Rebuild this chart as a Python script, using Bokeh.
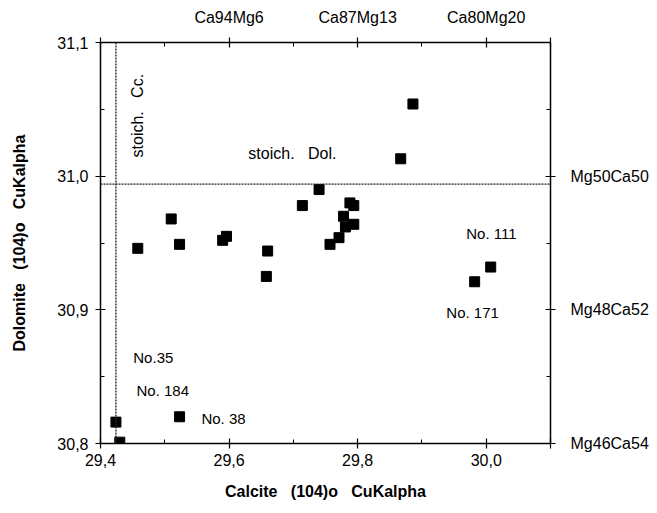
import numpy as np
from bokeh.plotting import figure
from bokeh.models import (LinearAxis, FixedTicker, CustomJSTickFormatter, Span,
                          Range1d, ColumnDataSource, Label)
from bokeh.embed import file_html
from bokeh.resources import INLINE

# ---- data ----
calcite = [29.424, 29.430, 29.458, 29.510, 29.523, 29.590, 29.596, 29.660, 29.658,
           29.714, 29.740, 29.757, 29.771, 29.778, 29.781, 29.788, 29.794, 29.794,
           29.867, 29.886, 29.982, 30.007, 29.523]
dolomite = [30.816, 30.801, 30.946, 30.968, 30.949, 30.952, 30.955, 30.944, 30.925,
            30.978, 30.990, 30.949, 30.954, 30.970, 30.962, 30.980, 30.978, 30.964,
            31.013, 31.054, 30.921, 30.932, 30.820]

x_major = [29.4, 29.6, 29.8, 30.0, 30.1]
x_minor = [29.5, 29.7, 29.9]
y_major = [30.8, 30.9, 31.0, 31.1]
y_minor = [30.85, 30.95, 31.05]
top_ticks = [29.6, 29.8, 30.0]
top_labels = ["Ca94Mg6", "Ca87Mg13", "Ca80Mg20"]
right_ticks = [31.0, 30.9, 30.8]
right_labels = ["Mg50Ca50", "Mg48Ca52", "Mg46Ca54"]
stoich_dol = 30.994
stoich_cc = 29.424

NB = "\u00a0"
ann_text = ["No.35", "No. 184", "No. 38", "No. 111", "No. 171"]
ann_x = [29.451, 29.456, 29.557, 29.969, 29.938]
ann_y = [30.864, 30.840, 30.819, 30.957, 30.898]

FONT = "Liberation Sans"

p = figure(width=657, height=513, x_range=Range1d(29.4, 30.1), y_range=Range1d(30.8, 31.1),
           output_backend="svg", toolbar_location=None,
           min_border_left=100, min_border_right=107, min_border_top=42, min_border_bottom=70,
           background_fill_color="white", border_fill_color="white")
p.outline_line_color = None
p.xgrid.visible = False
p.ygrid.visible = False

num_fmt = CustomJSTickFormatter(code="""
if (Math.abs(tick - 30.1) < 1e-6) return '';
return tick.toFixed(1).replace('.', ',');
""")

def style(ax, size="16px"):
    ax.axis_line_color = "black"
    ax.axis_line_width = 1.5
    ax.major_tick_line_color = "black"
    ax.minor_tick_line_color = "black"
    ax.major_tick_line_width = 1.2
    ax.minor_tick_line_width = 1.0
    ax.major_tick_in = 5
    ax.major_tick_out = 5
    ax.minor_tick_in = 4
    ax.minor_tick_out = 0
    ax.major_label_text_font = FONT
    ax.major_label_text_font_size = size
    ax.major_label_text_color = "black"
    ax.axis_label_text_font = FONT
    ax.axis_label_text_font_style = "bold"
    ax.axis_label_text_font_size = "16px"
    ax.axis_label_text_color = "black"

xb = p.xaxis[0]
xb.ticker = FixedTicker(ticks=x_major, minor_ticks=x_minor)
xb.formatter = num_fmt
xb.axis_label = "Calcite" + NB * 2 + " (104)o" + NB * 2 + " CuKalpha"
style(xb)
xb.major_label_standoff = 5
xb.axis_label_standoff = 14

yl = p.yaxis[0]
yl.ticker = FixedTicker(ticks=y_major, minor_ticks=y_minor)
yl.formatter = CustomJSTickFormatter(code="return tick.toFixed(1).replace('.', ',');")
yl.axis_label = "Dolomite" + NB * 2 + " (104)o" + NB * 2 + " CuKalpha"
style(yl)
yl.major_label_standoff = 7
yl.axis_label_standoff = 26

top_fmt = CustomJSTickFormatter(args=dict(t=top_ticks, l=top_labels), code="""
for (let i = 0; i < t.length; i++) { if (Math.abs(tick - t[i]) < 1e-6) return l[i]; }
return '';
""")
xt = LinearAxis(ticker=FixedTicker(ticks=[29.4] + top_ticks + [30.1], minor_ticks=x_minor),
                formatter=top_fmt)
style(xt, "16px")
xt.major_label_standoff = 12
p.add_layout(xt, "above")

right_fmt = CustomJSTickFormatter(args=dict(t=right_ticks, l=right_labels), code="""
for (let i = 0; i < t.length; i++) { if (Math.abs(tick - t[i]) < 1e-6) return l[i]; }
return '';
""")
yr = LinearAxis(ticker=FixedTicker(ticks=right_ticks, minor_ticks=y_minor), formatter=right_fmt)
style(yr, "16px")
yr.major_label_standoff = 15
p.add_layout(yr, "right")

# stoichiometric reference lines
p.add_layout(Span(location=stoich_dol, dimension="width", line_color="#222222",
                  line_dash="2 1", line_width=1.3))
p.add_layout(Span(location=stoich_cc, dimension="height", line_color="#222222",
                  line_dash="2 1", line_width=1.3))

src = ColumnDataSource(dict(x=calcite, y=dolomite))
p.scatter("x", "y", source=src, marker="square", size=10, color="black")

for t, x, y in zip(ann_text, ann_x, ann_y):
    p.add_layout(Label(x=x, y=y, text=t, text_font=FONT, text_font_size="15px",
                       text_color="black", text_baseline="middle", text_align="left"))

p.add_layout(Label(x=29.630, y=31.017, text="stoich." + NB * 2 + " Dol.", text_font=FONT,
                   text_font_size="16px", text_color="black",
                   text_baseline="middle", text_align="left"))
p.add_layout(Label(x=29.4575, y=31.014, text="stoich." + NB * 2 + " Cc.", text_font=FONT,
                   text_font_size="16px", text_color="black", angle=np.pi / 2,
                   text_baseline="middle", text_align="left"))

open("out.html", "w").write(file_html(p, INLINE))
